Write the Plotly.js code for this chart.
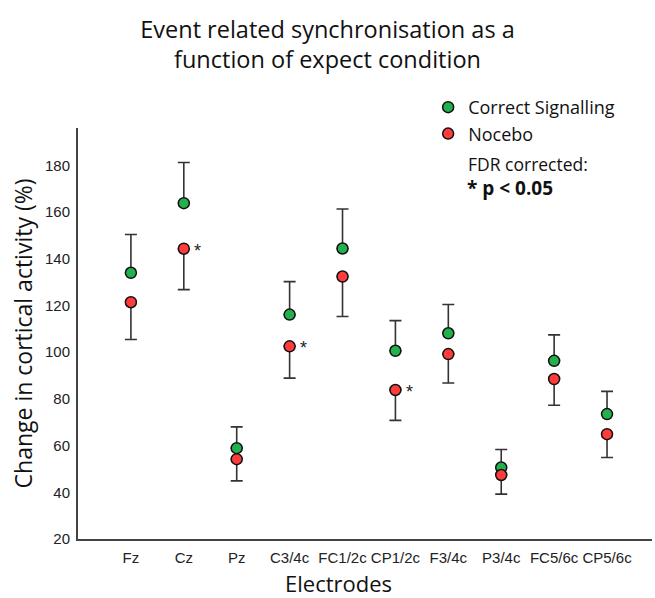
<!DOCTYPE html>
<html>
<head>
<meta charset="utf-8">
<script src="https://cdn.plot.ly/plotly-3.0.1.min.js"></script>
<style>html,body{margin:0;padding:0;background:#fff;}#chart{width:655px;height:598px;}</style>
</head>
<body>
<div id="chart"></div>
<script>
// Electrode categories (x tick labels)
const electrodes = ["Fz", "Cz", "Pz", "C3/4c", "FC1/2c", "CP1/2c", "F3/4c", "P3/4c", "FC5/6c", "CP5/6c"];
// Mean change in cortical activity (%)
const correctSignalling = [134.0, 163.8, 58.9, 116.1, 144.4, 100.6, 108.1, 50.6, 96.3, 73.5];
const nocebo            = [121.4, 144.3, 54.2, 102.5, 132.4, 83.8, 99.2, 47.4, 88.5, 64.9];
// Error bars: upward on Correct Signalling, downward on Nocebo
const correctErrPlus = [16.4, 17.4, 9.1, 14.1, 16.9, 12.9, 12.3, 7.7, 11.1, 9.7];
const noceboErrMinus = [16.0, 17.5, 9.3, 13.6, 17.1, 13.0, 12.4, 8.2, 11.2, 10.0];
// FDR-corrected significant electrodes (p < 0.05)
const significant = ["Cz", "C3/4c", "CP1/2c"];
const yTicks = [20, 40, 60, 80, 100, 120, 140, 160, 180];

const xIdx = electrodes.map((_, i) => i);

const errStyle = {color: '#333333', thickness: 1.6, width: 6};
const sans = 'Open Sans, sans-serif';
const arial = 'Liberation Sans, Arial, sans-serif';

const traces = [
  {
    type: 'scatter', mode: 'markers', name: 'Correct Signalling',
    x: xIdx, y: correctSignalling,
    legendgroup: 'a',
    marker: {size: 11, color: '#22b14c', line: {color: '#111', width: 1.5}},
    error_y: Object.assign({type: 'data', symmetric: false, array: correctErrPlus,
      arrayminus: correctErrPlus.map(() => 0)}, errStyle)
  },
  {
    type: 'scatter', mode: 'markers', name: 'Nocebo',
    x: xIdx, y: nocebo,
    legendgroup: 'b',
    marker: {size: 11, color: '#ff3b3b', line: {color: '#111', width: 1.5}},
    error_y: Object.assign({type: 'data', symmetric: false, array: nocebo.map(() => 0),
      arrayminus: noceboErrMinus}, errStyle)
  }
];

const annotations = significant.map(name => {
  const i = electrodes.indexOf(name);
  return {x: i, y: nocebo[i], xref: 'x', yref: 'y', text: '*', showarrow: false,
    xshift: 14, yshift: -2, font: {family: arial, size: 18, color: '#222'}};
});
annotations.push(
  {xref: 'paper', yref: 'paper', x: 0.676, y: 0.912, xanchor: 'left', yanchor: 'middle',
   text: 'FDR corrected:', showarrow: false, font: {family: sans, size: 17.5, color: '#111'}},
  {xref: 'paper', yref: 'paper', x: 0.674, y: 0.853, xanchor: 'left', yanchor: 'middle',
   text: '<b>* p &lt; 0.05</b>', showarrow: false, font: {family: sans, size: 19, color: '#111'}},
  {xref: 'paper', yref: 'paper', x: 0.453, y: -0.107, xanchor: 'center', yanchor: 'middle',
   text: 'Electrodes', showarrow: false, font: {family: sans, size: 22, color: '#111'}}
);

const layout = {
  width: 655, height: 598,
  margin: {l: 78, r: 3, t: 128, b: 59},
  paper_bgcolor: '#fff', plot_bgcolor: '#fff',
  font: {family: sans, color: '#222'},
  title: {
    text: 'Event related synchronisation as a<br>function of expect condition',
    x: 0.5, xref: 'container', xanchor: 'center',
    y: 0.937, yref: 'container', yanchor: 'top',
    font: {family: sans, size: 23.5, color: '#111'}
  },
  xaxis: {
    range: [-1.0, 9.85],
    tickvals: xIdx, ticktext: electrodes,
    showgrid: false, zeroline: false,
    showline: true, linecolor: '#444', linewidth: 2,
    ticks: '', ticklabelstandoff: 4,
    tickfont: {family: arial, size: 15, color: '#222'}
  },
  yaxis: {
    range: [20, 196],
    tickvals: yTicks,
    showgrid: false, zeroline: false,
    showline: true, linecolor: '#444', linewidth: 2,
    ticks: '', ticklabelstandoff: 3,
    tickfont: {family: arial, size: 15, color: '#222'},
    title: {text: 'Change in cortical activity (%)', font: {family: sans, size: 23, color: '#111'}, standoff: 6}
  },
  showlegend: true,
  legend: {
    x: 0.61, y: 1.095, xanchor: 'left', yanchor: 'top',
    traceorder: 'grouped', tracegroupgap: 0,
    bgcolor: 'rgba(0,0,0,0)', borderwidth: 0,
    font: {family: sans, size: 18, color: '#111'}
  },
  annotations: annotations
};

Plotly.newPlot('chart', traces, layout, {displayModeBar: false, staticPlot: true});
</script>
</body>
</html>
